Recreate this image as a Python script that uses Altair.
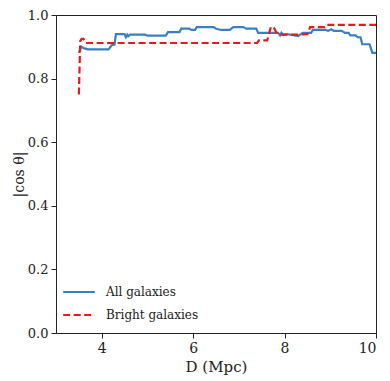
import altair as alt
import pandas as pd

all_d = [3.50, 3.55, 3.62, 3.70, 4.15, 4.22, 4.28, 4.31, 4.50, 4.53, 4.56, 4.58, 4.62, 4.95, 5.00, 5.40,
         5.45, 5.70, 5.74, 5.92, 5.96, 6.04, 6.08, 6.45, 6.50, 6.60, 6.80, 6.88, 7.10, 7.16, 7.38, 7.42,
         7.86, 7.90, 7.93, 7.97, 8.05, 8.30, 8.40, 8.58, 8.62, 8.90, 8.95, 9.02, 9.08, 9.25, 9.32, 9.40,
         9.44, 9.55, 9.60, 9.66, 9.70, 9.86, 9.92, 10.0]
all_cos = [0.881, 0.900, 0.895, 0.892, 0.892, 0.905, 0.907, 0.940, 0.940, 0.930, 0.938, 0.933, 0.938, 0.938, 0.935, 0.935,
           0.946, 0.946, 0.957, 0.957, 0.953, 0.953, 0.962, 0.962, 0.957, 0.953, 0.953, 0.962, 0.962, 0.957, 0.957, 0.944,
           0.944, 0.936, 0.944, 0.937, 0.940, 0.934, 0.944, 0.944, 0.953, 0.953, 0.950, 0.955, 0.950, 0.950, 0.944, 0.944,
           0.936, 0.936, 0.930, 0.930, 0.908, 0.908, 0.881, 0.881]

bright_d = [3.50, 3.53, 3.56, 3.60, 3.65, 7.40, 7.44, 7.62, 7.70, 7.76, 7.82, 7.90, 8.30, 8.50, 8.56, 8.88, 8.92, 10.0]
bright_cos = [0.750, 0.918, 0.925, 0.925, 0.912, 0.912, 0.920, 0.920, 0.962, 0.962, 0.945, 0.938, 0.938, 0.940, 0.962, 0.962, 0.969, 0.969]

series = ["All galaxies", "Bright galaxies"]

df = pd.concat([
    pd.DataFrame({"D": all_d, "cos": all_cos, "series": series[0], "order": range(len(all_d))}),
    pd.DataFrame({"D": bright_d, "cos": bright_cos, "series": series[1], "order": range(len(bright_d))}),
])

font = "DejaVu Serif"

legend = alt.Legend(title=None, orient="none", legendX=6, legendY=260,
                    symbolType="stroke", symbolSize=1000, symbolStrokeWidth=2.2,
                    labelFont=font, labelFontSize=12, labelColor="#222",
                    rowPadding=-12, padding=0, labelOffset=10)

chart = alt.Chart(df).mark_line(strokeWidth=2.2, clip=True).encode(
    x=alt.X("D:Q", scale=alt.Scale(domain=[3, 10], nice=False),
            axis=alt.Axis(values=[4, 6, 8, 10], title="D (Mpc)", format="d")),
    y=alt.Y("cos:Q", scale=alt.Scale(domain=[0, 1], nice=False),
            axis=alt.Axis(values=[0, 0.2, 0.4, 0.6, 0.8, 1.0], format=".1f", title="|cos θ|",
                          titlePadding=1, labelFontSize=13, titleFontSize=14)),
    color=alt.Color("series:N", scale=alt.Scale(domain=series, range=["#3a7fc1", "#e8191c"]), legend=legend),
    strokeDash=alt.StrokeDash("series:N", scale=alt.Scale(domain=series, range=[[1, 0], [7, 3.5]]), legend=legend),
    order="order:Q",
).properties(
    width=320, height=318,
    autosize=alt.AutoSizeParams(type="none"),
    padding={"left": 48, "top": 7, "right": 6, "bottom": 46},
).configure_view(
    stroke="#222", strokeWidth=1
).configure_axis(
    grid=False, domainColor="#222", tickColor="#222", tickSize=5,
    labelFont=font, labelFontSize=14, labelColor="#222", labelPadding=3,
    titleFont=font, titleFontSize=15, titleFontWeight="normal", titleColor="#222",
)

chart.save("out.html", embed_options={"renderer": "svg", "actions": False})
